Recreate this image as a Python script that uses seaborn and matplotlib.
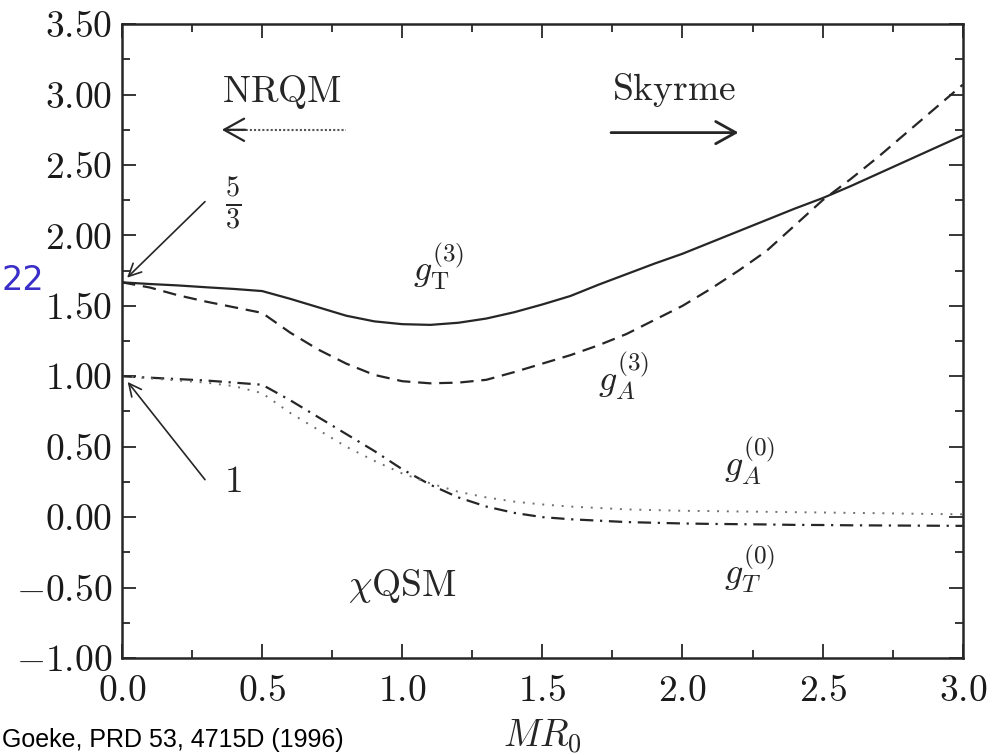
import matplotlib
matplotlib.use("Agg")
import matplotlib.pyplot as plt
import seaborn as sns
import numpy as np
import pandas as pd
from matplotlib.ticker import MultipleLocator, FuncFormatter

# values (M R0 on x)
mr0 = [0.0, 0.1, 0.2, 0.3, 0.4, 0.5, 0.6, 0.7, 0.8, 0.9, 1.0, 1.1, 1.2, 1.3, 1.4, 1.5,
       1.6, 1.7, 1.8, 1.9, 2.0, 2.1, 2.2, 2.3, 2.4, 2.5, 2.6, 2.7, 2.8, 2.9, 3.0]
gT3 = [1.667, 1.655, 1.645, 1.632, 1.62, 1.605, 1.55, 1.49, 1.43, 1.39, 1.37, 1.365, 1.38,
       1.41, 1.455, 1.51, 1.57, 1.65, 1.725, 1.80, 1.87, 1.95, 2.03, 2.11, 2.19, 2.265,
       2.35, 2.44, 2.53, 2.62, 2.71]
gA3 = [1.667, 1.63, 1.575, 1.53, 1.49, 1.45, 1.31, 1.19, 1.09, 1.01, 0.965, 0.95, 0.955,
       0.975, 1.03, 1.09, 1.15, 1.22, 1.30, 1.40, 1.50, 1.62, 1.75, 1.89, 2.07, 2.25,
       2.40, 2.56, 2.73, 2.90, 3.07]
gT0 = [1.0, 0.99, 0.98, 0.97, 0.955, 0.94, 0.83, 0.71, 0.59, 0.47, 0.34, 0.23, 0.14,
       0.075, 0.03, 0.0, -0.015, -0.025, -0.035, -0.04, -0.045, -0.048, -0.05, -0.052,
       -0.055, -0.056, -0.058, -0.059, -0.06, -0.061, -0.062]
gA0 = [1.0, 0.985, 0.97, 0.955, 0.93, 0.88, 0.74, 0.62, 0.50, 0.40, 0.31, 0.24, 0.18,
       0.14, 0.11, 0.09, 0.075, 0.065, 0.055, 0.05, 0.045, 0.043, 0.04, 0.038, 0.035,
       0.033, 0.03, 0.028, 0.025, 0.022, 0.02]

df = pd.DataFrame({"MR0": mr0, "gT3": gT3, "gA3": gA3, "gT0": gT0, "gA0": gA0})

sns.set_theme(style="ticks")
plt.rcParams["font.family"] = ["serif"]
plt.rcParams["font.serif"] = ["cmr10", "DejaVu Serif"]
plt.rcParams["mathtext.fontset"] = "cm"
plt.rcParams["axes.formatter.use_mathtext"] = True

ink = "#262626"
fig = plt.figure(figsize=(10.02, 7.55), dpi=100)
ax = fig.add_axes([0.1218, 0.1285, 0.839, 0.8395])

sns.lineplot(data=df, x="MR0", y="gT3", ax=ax, color=ink, lw=1.6)
sns.lineplot(data=df, x="MR0", y="gA3", ax=ax, color=ink, lw=1.6, ls=(0, (6, 3.5)))
sns.lineplot(data=df, x="MR0", y="gT0", ax=ax, color=ink, lw=1.6, ls=(0, (6, 3, 1, 3)))
sns.lineplot(data=df, x="MR0", y="gA0", ax=ax, color="#707070", lw=1.4, ls=(0, (1, 4)))

ax.set_xlim(0, 3.0)
ax.set_ylim(-1.0, 3.5)
ax.xaxis.set_major_locator(MultipleLocator(0.5))
ax.xaxis.set_minor_locator(MultipleLocator(0.25))
ax.yaxis.set_major_locator(MultipleLocator(0.5))
ax.yaxis.set_minor_locator(MultipleLocator(0.25))
ax.xaxis.set_major_formatter(FuncFormatter(lambda v, p: "$%.1f$" % v))
ax.yaxis.set_major_formatter(FuncFormatter(lambda v, p: "$%.2f$" % v))
ax.tick_params(which="both", direction="in", top=True, right=True, color=ink, width=1.3,
               labelsize=27, labelcolor="#1a1a1a")
ax.tick_params(which="major", length=10)
ax.tick_params(which="minor", length=6)
ax.tick_params(axis="x", pad=12)
ax.tick_params(axis="y", pad=7)
for s in ax.spines.values():
    s.set_visible(True)
    s.set_linewidth(1.8)
    s.set_color(ink)

ax.set_xlabel(r"$MR_0$", fontsize=27, labelpad=7)
ax.set_ylabel("")

# curve labels
ax.text(1.13, 1.78, r"$g_{\mathrm{T}}^{(3)}$", fontsize=26, ha="center", va="center")
ax.text(1.79, 1.0, r"$g_A^{(3)}$", fontsize=26, ha="center", va="center")
ax.text(2.24, 0.40, r"$g_A^{(0)}$", fontsize=26, ha="center", va="center")
ax.text(2.24, -0.37, r"$g_T^{(0)}$", fontsize=26, ha="center", va="center")
ax.text(1.0, -0.49, r"$\chi\mathrm{QSM}$", fontsize=27, ha="center", va="center")

# limits at MR0 -> 0
ax.annotate("", xy=(0.018, 1.70), xytext=(0.296, 2.24),
            arrowprops=dict(arrowstyle="->,head_length=0.45,head_width=0.22", lw=1.2,
                            color=ink, mutation_scale=20, shrinkA=0, shrinkB=0))
ax.text(0.395, 2.22, r"$\frac{5}{3}$", fontsize=29, ha="center", va="center")
ax.annotate("", xy=(0.02, 0.96), xytext=(0.296, 0.266),
            arrowprops=dict(arrowstyle="->,head_length=0.45,head_width=0.22", lw=1.2,
                            color=ink, mutation_scale=20, shrinkA=0, shrinkB=0))
ax.text(0.395, 0.245, r"$\mathbf{1}$", fontsize=27, ha="center", va="center")

# NRQM / Skyrme limits
ax.text(0.57, 3.02, r"$\mathrm{NRQM}$", fontsize=27, ha="center", va="center")
ax.plot([0.38, 0.80], [2.75, 2.75], color="#555555", lw=1.5, ls=(0, (1, 1)))
ax.annotate("", xy=(0.356, 2.75), xytext=(0.44, 2.75),
            arrowprops=dict(arrowstyle="->,head_length=0.72,head_width=0.4", lw=1.6,
                            color=ink, mutation_scale=20, shrinkA=0, shrinkB=0))
ax.text(1.97, 3.03, r"$\mathrm{Skyrme}$", fontsize=27, ha="center", va="center")
ax.annotate("", xy=(2.20, 2.73), xytext=(1.745, 2.73),
            arrowprops=dict(arrowstyle="->,head_length=0.72,head_width=0.4", lw=2.0,
                            color=ink, mutation_scale=20, shrinkA=0, shrinkB=0))

# slide overlays
fig.text(0.001, 1 - 281 / 755, "22", ha="left", va="center", color="#3a2ec8",
         fontsize=24, family=["DejaVu Sans"])
fig.text(0.002, 0.004, "Goeke, PRD 53, 4715D (1996)", ha="left", va="bottom",
         color="black", fontsize=18, family=["Liberation Sans", "DejaVu Sans"])

fig.savefig("out.png", dpi=100)
plt.close(fig)
